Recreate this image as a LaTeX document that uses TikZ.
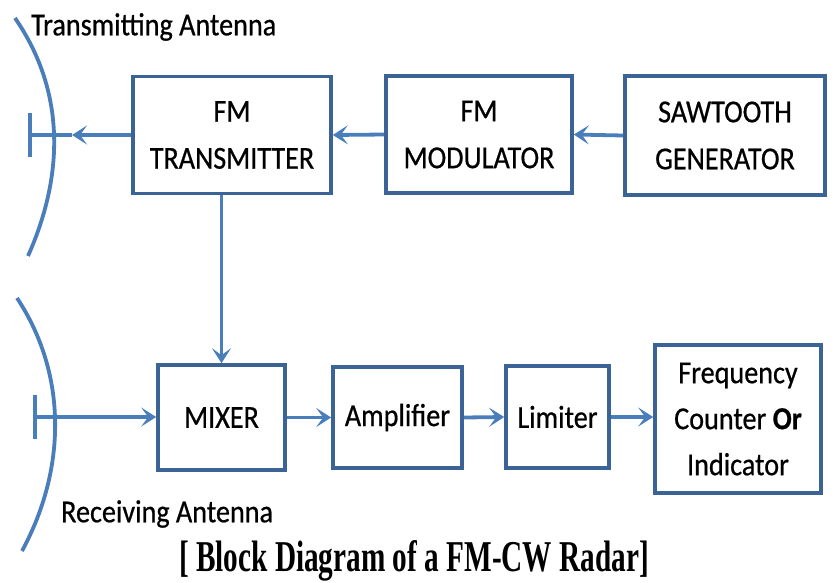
\documentclass[tikz,border=0pt]{standalone}
\usepackage{fontspec}
\setmainfont[FakeStretch=0.88,FakeBold=0.6]{Carlito}
\newfontfamily\capfont[FakeStretch=0.665]{Liberation Serif}
\usetikzlibrary{arrows.meta}
\definecolor{linec}{HTML}{4A7EBB}
\definecolor{boxc}{HTML}{3B6396}
\tikzset{
  blk/.style={draw=boxc,line width=3.6pt,fill=white,inner sep=0pt,align=center,font=\fontsize{32}{47}\selectfont},
  conn/.style={draw=linec,line width=3.8pt},
  arr/.style={conn,-{Stealth[length=15pt,width=19pt,inset=7pt]}},
  lbl/.style={font=\fontsize{32}{35}\selectfont,inner sep=0pt}
}
\begin{document}
\begin{tikzpicture}[x=1pt,y=-1pt]
\useasboundingbox (0,0) rectangle (835,582);
% blocks
\node[blk,minimum width=198pt,minimum height=117pt] (tx) at (232,135) {FM\\TRANSMITTER};
\node[blk,minimum width=186pt,minimum height=117pt] (mod) at (479,134.5) {FM\\MODULATOR};
\node[blk,minimum width=200pt,minimum height=119pt] (saw) at (725,135.5) {SAWTOOTH\\GENERATOR};
\node[blk,minimum width=127pt,minimum height=105pt] (mix) at (221.5,417.5) {MIXER};
\node[blk,minimum width=129pt,minimum height=101pt] (amp) at (397.5,417.5) {Amplifier};
\node[blk,minimum width=103pt,minimum height=102pt] (lim) at (557.5,417) {Limiter};
\node[blk,minimum width=166pt,minimum height=148pt,font=\fontsize{32}{46}\selectfont] (freq) at (738,419) {Frequency\\Counter \textbf{Or}\\Indicator};
% antennas
\coordinate (t1) at (15,18);
\coordinate (t2) at (28,256);
\draw[conn] (t1) .. controls (68,95) and (62,180) .. (t2);
\coordinate (r1) at (17,298);
\coordinate (r2) at (22,551);
\draw[conn] (r1) .. controls (68,375) and (66,470) .. (r2);
\coordinate (tb1) at (30,113);
\coordinate (tb2) at (30,157);
\coordinate (tf) at (30,135);
\coordinate (tm) at (72,135);
\draw[conn] (tb1) -- (tb2);
\coordinate (rb1) at (35,395);
\coordinate (rb2) at (35,439);
\coordinate (rf) at (35,417);
\draw[conn] (rb1) -- (rb2);
% connectors
\draw[arr] (tx.west |- tf) -- (tm);
\draw[conn] (tm) -- (tf);
\draw[arr] (rf) -- (mix.west |- rf);
\draw[arr] (saw.west) -- (mod.east);
\draw[arr] (mod.west) -- (tx.east);
\draw[arr] (mix.north |- tx.south) -- (mix.north);
\draw[arr] (mix.east) -- (amp.west);
\draw[arr] (amp.east) -- (lim.west);
\draw[arr] (lim.east) -- (freq.west |- lim.east);
% labels
\node[lbl,anchor=west] (tl) at (31,27) {Transmitting Antenna};
\node[lbl,anchor=west] (rl) at (61,514) {Receiving Antenna};
\node[inner sep=0pt] (cap) at (414,561) {\capfont\bfseries\fontsize{44}{48}\selectfont [ Block Diagram of a FM-CW Radar]};
\end{tikzpicture}
\end{document}
